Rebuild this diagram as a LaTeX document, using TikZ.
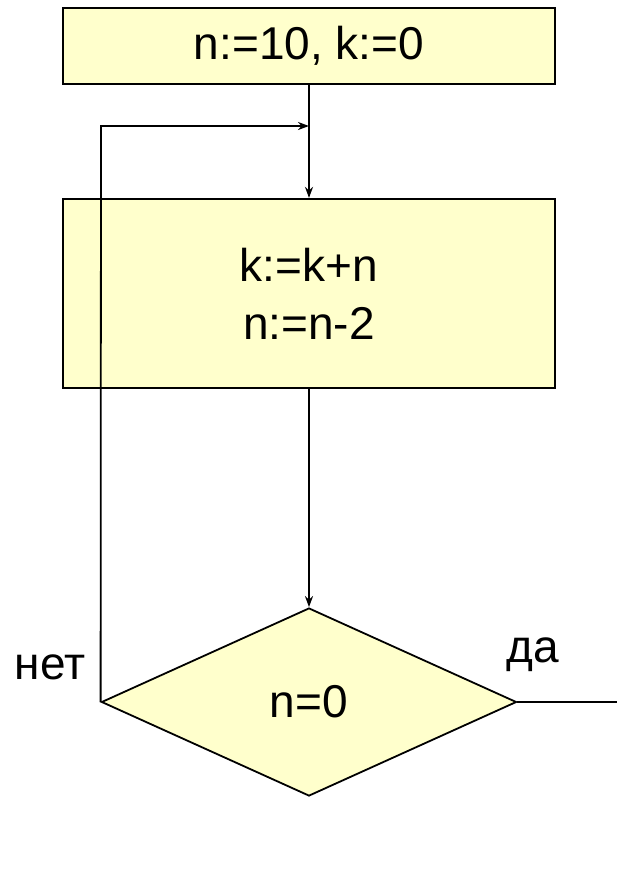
\documentclass[tikz,border=0pt]{standalone}
\usepackage{fontspec}
\setmainfont{Liberation Sans}
\usetikzlibrary{shapes.geometric,arrows.meta}
\definecolor{boxyellow}{HTML}{FFFFCC}
\begin{document}
\begin{tikzpicture}[x=1pt,y=-1pt,
 blk/.style={draw=black,fill=boxyellow,line width=2.2pt,inner sep=0pt,font=\fontsize{46}{58}\selectfont,align=center},
 conn/.style={line width=1.8pt},
 arr/.style={conn,-{Stealth[length=11pt,width=8pt,inset=3.5pt]}},
 lbl/.style={font=\fontsize{46}{58}\selectfont,inner sep=0pt}]
\useasboundingbox (0,0) rectangle (617,887);
\node[blk,minimum width=492pt,minimum height=76pt] (init) at (309,46) {n:=10, k:=0};
\node[blk,minimum width=492pt,minimum height=189pt] (body) at (309,293.5) {k:=k+n\\n:=n-2};
\node[blk,diamond,line width=1.8pt,minimum width=415pt,minimum height=188pt] (cond) at (309,702) {n=0};
\node[lbl] (no) at (50,667) {нет};
\node[lbl] (yes) at (533,655) {да};
\coordinate (corner) at (101,126);
\coordinate (join) at (309,126);
\coordinate (exit) at (617,702);
\draw[arr] (init.south) -- (body.north);
\draw[arr] (body.south) -- (cond.north);
\draw[arr] (cond.west) -- (corner) -- (join);
\draw[conn] (cond.east) -- (exit);
\end{tikzpicture}
\end{document}
